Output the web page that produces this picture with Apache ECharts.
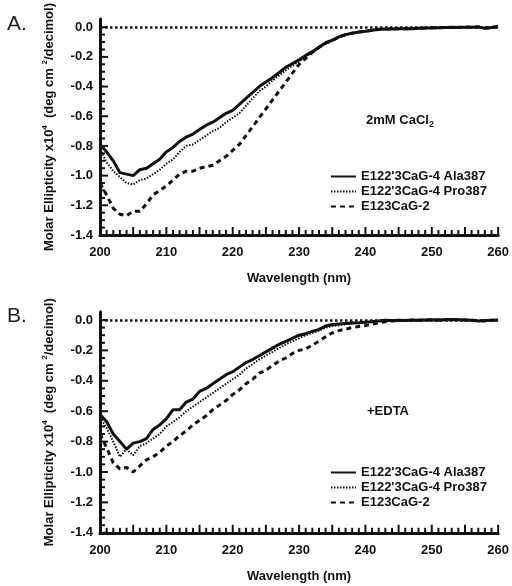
<!DOCTYPE html>
<html>
<head>
<meta charset="utf-8">
<script src="https://cdn.jsdelivr.net/npm/echarts@6/dist/echarts.min.js"></script>
<style>
html,body{margin:0;padding:0;background:#fff;}
#chart{width:512px;height:586px;}
</style>
</head>
<body>
<div id="chart"></div>
<script>
const wavelengths = [200,201,202,203,204,205,206,207,208,209,210,211,212,213,214,215,216,217,218,219,220,221,222,223,224,225,226,227,228,229,230,231,232,233,234,235,236,237,238,239,240,241,242,243,244,245,246,247,248,249,250,251,252,253,254,255,256,257,258,259,260];

const seriesNames = ["E122'3CaG-4 Ala387", "E122'3CaG-4 Pro387", "E123CaG-2"];

// Panel A (2mM CaCl2)
const aAla = [-0.79,-0.84,-0.90,-0.98,-0.99,-1.00,-0.96,-0.95,-0.92,-0.89,-0.84,-0.81,-0.77,-0.74,-0.72,-0.69,-0.66,-0.64,-0.61,-0.58,-0.56,-0.52,-0.48,-0.44,-0.40,-0.37,-0.34,-0.305,-0.27,-0.245,-0.22,-0.19,-0.165,-0.135,-0.105,-0.088,-0.065,-0.05,-0.04,-0.032,-0.027,-0.02,-0.014,-0.013,-0.012,-0.011,-0.010,-0.010,-0.008,-0.006,-0.005,-0.004,-0.002,-0.001,-0.002,0.000,-0.001,0.002,-0.008,-0.002,0.004];
const aPro = [-0.82,-0.91,-0.97,-1.01,-1.05,-1.06,-1.03,-1.02,-0.99,-0.96,-0.92,-0.89,-0.84,-0.80,-0.79,-0.76,-0.73,-0.70,-0.68,-0.64,-0.61,-0.58,-0.53,-0.48,-0.43,-0.40,-0.36,-0.325,-0.29,-0.26,-0.23,-0.20,-0.17,-0.14,-0.11,-0.09,-0.067,-0.052,-0.042,-0.034,-0.028,-0.021,-0.016,-0.014,-0.012,-0.012,-0.010,-0.009,-0.009,-0.007,-0.005,-0.003,-0.003,-0.001,0.000,0.001,-0.002,0.003,-0.006,0.000,0.005];
const aE123 = [-1.05,-1.13,-1.22,-1.26,-1.27,-1.24,-1.24,-1.19,-1.13,-1.10,-1.07,-1.03,-0.99,-0.97,-0.97,-0.95,-0.94,-0.93,-0.90,-0.87,-0.83,-0.79,-0.73,-0.67,-0.61,-0.55,-0.49,-0.43,-0.37,-0.31,-0.25,-0.21,-0.17,-0.135,-0.108,-0.09,-0.066,-0.051,-0.041,-0.033,-0.027,-0.02,-0.015,-0.013,-0.011,-0.01,-0.011,-0.009,-0.007,-0.006,-0.004,-0.004,-0.001,-0.002,-0.001,0.001,0.000,0.001,-0.007,-0.001,0.003];

// Panel B (+EDTA)
const bAla = [-0.62,-0.67,-0.75,-0.80,-0.85,-0.81,-0.80,-0.78,-0.72,-0.69,-0.65,-0.59,-0.59,-0.54,-0.52,-0.47,-0.45,-0.42,-0.39,-0.36,-0.34,-0.31,-0.28,-0.26,-0.235,-0.21,-0.185,-0.16,-0.14,-0.12,-0.10,-0.09,-0.075,-0.062,-0.04,-0.03,-0.026,-0.023,-0.02,-0.018,-0.015,-0.012,-0.006,-0.002,-0.004,-0.002,-0.003,0.000,-0.002,0.000,0.002,0.000,0.002,0.004,0.002,0.000,-0.002,-0.006,-0.004,-0.002,0.000];
const bPro = [-0.64,-0.71,-0.80,-0.90,-0.85,-0.89,-0.83,-0.81,-0.78,-0.75,-0.70,-0.67,-0.64,-0.60,-0.57,-0.54,-0.51,-0.48,-0.45,-0.42,-0.39,-0.36,-0.32,-0.29,-0.26,-0.235,-0.21,-0.185,-0.16,-0.14,-0.12,-0.10,-0.085,-0.07,-0.05,-0.04,-0.035,-0.028,-0.022,-0.019,-0.016,-0.012,-0.008,-0.004,-0.005,-0.003,-0.002,-0.001,-0.002,0.001,0.002,0.001,0.003,0.005,0.003,0.001,-0.001,-0.005,-0.005,-0.001,0.001];
const bE123 = [-0.75,-0.84,-0.94,-0.98,-0.97,-1.00,-0.96,-0.92,-0.90,-0.87,-0.83,-0.80,-0.76,-0.73,-0.69,-0.66,-0.63,-0.59,-0.56,-0.53,-0.49,-0.46,-0.42,-0.39,-0.35,-0.33,-0.30,-0.27,-0.25,-0.22,-0.20,-0.19,-0.165,-0.14,-0.11,-0.085,-0.07,-0.06,-0.05,-0.043,-0.037,-0.028,-0.018,-0.011,-0.006,-0.004,-0.003,-0.002,-0.001,0.000,0.001,0.000,0.002,0.003,0.002,0.000,-0.002,-0.004,-0.006,-0.002,0.000];

const xTickLabels = [200,210,220,230,240,250,260];
const yTickLabels = [-1.4,-1.2,-1.0,-0.8,-0.6,-0.4,-0.2,0.0];
const yMinorTicks = [];
for (let i = 0; i <= 28; i++) {
  const v = Math.round((-1.4 + i * 0.05) * 100) / 100;
  if (Math.round(v * 100) % 20 !== 0) yMinorTicks.push(v);
}

const FONT = "'Liberation Sans', Arial, Helvetica, sans-serif";
const INK = '#111';
const X_MIN = 200, X_MAX = 260;
const Y_MIN = -1.4, Y_MAX = 0.055;

function pairs(vals) { return wavelengths.map((w, i) => [w, vals[i]]); }

function xAxisFor(gi) {
  return {
    type: 'value', gridIndex: gi, min: X_MIN, max: X_MAX, interval: 5,
    name: 'Wavelength (nm)', nameLocation: 'middle', nameGap: 37,
    nameTextStyle: { fontFamily: FONT, fontWeight: 'bold', fontSize: 13, color: INK },
    axisLine: { show: true, onZero: false, lineStyle: { color: INK, width: 3 } },
    axisTick: { show: false },
    minorTick: { show: false },
    axisLabel: { customValues: xTickLabels, margin: 11, fontFamily: FONT, fontWeight: 'bold', fontSize: 13, color: INK },
    splitLine: { show: false }
  };
}
function yAxisFor(gi) {
  return {
    type: 'value', gridIndex: gi, min: Y_MIN, max: Y_MAX, position: 'left',
    name: 'Molar Ellipticity x10{sup|4}  (deg cm {sup|2}/decimol)',
    nameLocation: 'middle', nameGap: 43, nameRotate: 90,
    nameTextStyle: { fontFamily: FONT, fontWeight: 'bold', fontSize: 13, color: INK, lineHeight: 16,
      rich: { sup: { fontFamily: FONT, fontWeight: 'bold', fontSize: 8, lineHeight: 8, verticalAlign: 'top', color: INK } } },
    axisLine: { show: true, onZero: false, lineStyle: { color: INK, width: 3 } },
    axisTick: { show: false },
    minorTick: { show: false },
    axisLabel: { customValues: yTickLabels, margin: 7, fontFamily: FONT, fontWeight: 'bold', fontSize: 13, color: INK,
      formatter: v => v.toFixed(1) },
    splitLine: { show: false }
  };
}

const styles = [
  { type: 'solid', width: 3 },
  { type: [1.5, 1.5], width: 2 },
  { type: [5, 4], width: 3 }
];

function makeSeries(vals, xi, yi) {
  return vals.map((v, k) => {
    const s = {
      name: seriesNames[k], type: 'line', xAxisIndex: xi, yAxisIndex: yi,
      data: pairs(v), symbol: 'none', smooth: false,
      lineStyle: { color: INK, width: styles[k].width, type: styles[k].type },
      itemStyle: { color: INK }
    };
    if (k === 0) {
      s.markLine = {
        silent: true, symbol: ['none', 'none'], label: { show: false },
        lineStyle: { color: INK, type: [2.5, 2.5], width: 2.5 },
        data: [{ yAxis: 0 }]
      };
    }
    return s;
  });
}

function legendFor(top) {
  return {
    data: seriesNames, orient: 'vertical', left: 330, top: top, padding: 0,
    itemWidth: 25, itemHeight: 12, itemGap: 2, selectedMode: false,
    itemStyle: { color: 'rgba(0,0,0,0)', borderWidth: 0, opacity: 0 },
    textStyle: { fontFamily: FONT, fontWeight: 'bold', fontSize: 13, color: INK }
  };
}

const baseGraphics = [
  { id: 'lblA', type: 'text', x: 7, y: 14, style: { text: 'A.', fontFamily: FONT, fontSize: 21, fill: '#222' } },
  { id: 'lblB', type: 'text', x: 7, y: 306, style: { text: 'B.', fontFamily: FONT, fontSize: 21, fill: '#222' } },
  { id: 'cond1', type: 'text', x: 400, y: 120, style: { text: '2mM CaCl{sub|2}', align: 'center', verticalAlign: 'middle',
    fontFamily: FONT, fontWeight: 'bold', fontSize: 13, fill: INK, lineHeight: 18,
    rich: { sub: { fontFamily: FONT, fontWeight: 'bold', fontSize: 9, lineHeight: 9, verticalAlign: 'bottom', fill: INK } } } },
  { id: 'cond2', type: 'text', x: 388, y: 411, style: { text: '+EDTA', align: 'center', verticalAlign: 'middle',
    fontFamily: FONT, fontWeight: 'bold', fontSize: 13, fill: INK } }
];

const chart = echarts.init(document.getElementById('chart'), null, { renderer: 'canvas' });
chart.setOption({
  animation: false,
  backgroundColor: '#fff',
  grid: [
    { left: 100, width: 400, top: 25 - Y_MAX * 150, height: 1.455 * 150 },
    { left: 100, width: 400, top: 320 - Y_MAX * 152, height: 1.455 * 152 }
  ],
  xAxis: [xAxisFor(0), xAxisFor(1)],
  yAxis: [yAxisFor(0), yAxisFor(1)],
  legend: [legendFor(170), legendFor(466)],
  series: [].concat(
    makeSeries([aAla, aPro, aE123], 0, 0),
    makeSeries([bAla, bPro, bE123], 1, 1)
  ),
  graphic: baseGraphics
});

// Tick marks, placed through the chart's own axis scales (convertToPixel)
function tickLines(seriesIndex, tag) {
  const out = [];
  const finder = { seriesIndex: seriesIndex };
  wavelengths.forEach((w, i) => {
    const p = chart.convertToPixel(finder, [w, Y_MIN]);
    if (!p) return;
    const L = (w % 5 === 0) ? 8 : 5;
    out.push({ id: tag + 'x' + i, type: 'line', silent: true, z: 100,
      shape: { x1: p[0], y1: p[1], x2: p[0], y2: p[1] - L },
      style: { stroke: INK, lineWidth: 2 } });
  });
  yTickLabels.forEach((v, i) => {
    const p = chart.convertToPixel(finder, [X_MIN, v]);
    if (!p) return;
    out.push({ id: tag + 'ym' + i, type: 'line', silent: true, z: 100,
      shape: { x1: p[0], y1: p[1], x2: p[0] + 8, y2: p[1] },
      style: { stroke: INK, lineWidth: 2 } });
  });
  yMinorTicks.forEach((v, i) => {
    const p = chart.convertToPixel(finder, [X_MIN, v]);
    if (!p) return;
    out.push({ id: tag + 'yn' + i, type: 'line', silent: true, z: 100,
      shape: { x1: p[0], y1: p[1], x2: p[0] + 5, y2: p[1] },
      style: { stroke: INK, lineWidth: 2 } });
  });
  return out;
}

chart.setOption({
  graphic: baseGraphics.concat(tickLines(0, 'a'), tickLines(3, 'b'))
});
</script>
</body>
</html>
